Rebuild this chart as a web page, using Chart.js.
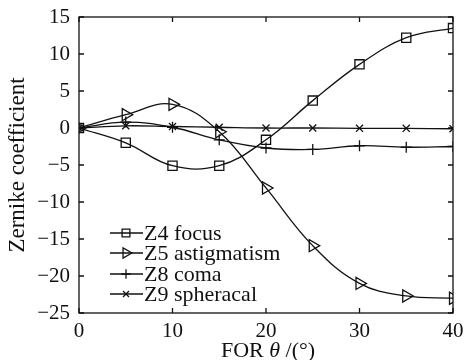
<!DOCTYPE html>
<html>
<head>
<meta charset="utf-8">
<script src="https://cdn.jsdelivr.net/npm/chart.js@4"></script>
<style>
html,body{margin:0;padding:0;background:#fff;}
#wrap{width:465px;height:360px;}
</style>
</head>
<body>
<div id="wrap"><canvas id="c" width="465" height="360"></canvas></div>
<script>
const fovAngles = [0, 5, 10, 15, 20, 25, 30, 35, 40];
const z4Focus = [0, -2.0, -5.1, -5.1, -1.6, 3.7, 8.6, 12.2, 13.5];
const z5Astig = [0, 1.8, 3.2, -0.5, -8.1, -15.9, -21.0, -22.7, -23.0];
const z8Coma = [0, 0.8, 0.1, -1.6, -2.7, -2.9, -2.4, -2.6, -2.5];
const z9Spher = [0, 0.3, 0.2, 0.1, 0.0, 0.0, -0.05, -0.05, -0.1];
const seriesNames = ['Z4 focus', 'Z5 astigmatism', 'Z8 coma', 'Z9 spheracal'];
const xTicks = [0, 10, 20, 30, 40];
const yTicks = [-25, -20, -15, -10, -5, 0, 5, 10, 15];

const FONT = '"Liberation Serif", "Times New Roman", serif';
const pts = arr => fovAngles.map((x, i) => ({x: x, y: arr[i]}));

const styles = [
  {pointStyle: 'rect', radius: 6.5, rotation: 0},
  {pointStyle: 'triangle', radius: 7, rotation: 90},
  {pointStyle: 'cross', radius: 5.5, rotation: 0},
  {pointStyle: 'crossRot', radius: 5, rotation: 0}
];
const datasets = [z4Focus, z5Astig, z8Coma, z9Spher].map((arr, i) => ({
  label: seriesNames[i],
  data: pts(arr),
  borderColor: '#111',
  borderWidth: 1.3,
  backgroundColor: 'rgba(0,0,0,0)',
  pointStyle: styles[i].pointStyle,
  pointRadius: styles[i].radius,
  pointRotation: styles[i].rotation,
  pointBorderColor: '#111',
  pointBackgroundColor: 'rgba(0,0,0,0)',
  pointBorderWidth: 1.3,
  tension: 0.4,
  fill: false
}));

const fmt = v => (v < 0 ? '\u2212' + Math.abs(v) : String(v));

const frameTicks = {
  id: 'frameTicks',
  afterDraw(chart) {
    const ctx = chart.ctx;
    const a = chart.chartArea;
    const xs = chart.scales.x, ys = chart.scales.y;
    ctx.save();
    ctx.strokeStyle = '#111';
    ctx.lineWidth = 1.3;
    ctx.strokeRect(a.left, a.top, a.right - a.left, a.bottom - a.top);
    const L = 5;
    ctx.beginPath();
    xTicks.forEach(v => {
      const px = xs.getPixelForValue(v);
      ctx.moveTo(px, a.bottom); ctx.lineTo(px, a.bottom - L);
      ctx.moveTo(px, a.top); ctx.lineTo(px, a.top + L);
    });
    yTicks.forEach(v => {
      const py = ys.getPixelForValue(v);
      ctx.moveTo(a.left, py); ctx.lineTo(a.left + L, py);
      ctx.moveTo(a.right, py); ctx.lineTo(a.right - L, py);
    });
    ctx.stroke();

    // legend
    const lx0 = a.left + 31, lx1 = a.left + 64, mx = a.left + 47;
    const rows = [233, 253, 274, 294];
    ctx.textBaseline = 'middle';
    ctx.textAlign = 'left';
    seriesNames.forEach((name, i) => {
      const y = rows[i];
      ctx.beginPath();
      ctx.lineWidth = 1.3;
      ctx.moveTo(lx0, y); ctx.lineTo(lx1, y);
      ctx.stroke();
      const st = styles[i];
      ctx.fillStyle = 'rgba(0,0,0,0)';
      Chart.helpers.drawPoint(ctx, {pointStyle: st.pointStyle, radius: st.radius * 0.85, rotation: st.rotation, borderWidth: 1.3}, mx, y);
      ctx.fillStyle = '#111';
      ctx.font = '22px ' + FONT;
      ctx.fillText(name, lx1 + 1, y + 1);
    });

    // x title with italic theta
    const parts = [['FOR ', 'normal'], ['\u03b8', 'italic'], [' /(\u00b0)', 'normal']];
    let total = 0;
    parts.forEach(p => { ctx.font = p[1] + ' 22px ' + FONT; total += ctx.measureText(p[0]).width; });
    let x = 268 - total / 2;
    ctx.fillStyle = '#111';
    ctx.textBaseline = 'middle';
    parts.forEach(p => {
      ctx.font = p[1] + ' 22px ' + FONT;
      ctx.fillText(p[0], x, 351);
      x += ctx.measureText(p[0]).width;
    });
    ctx.restore();
  }
};

new Chart(document.getElementById('c'), {
  type: 'line',
  data: {datasets: datasets},
  options: {
    responsive: false,
    animation: false,
    layout: {padding: {left: 4, top: 17, right: 12, bottom: 0}},
    plugins: {legend: {display: false}, tooltip: {enabled: false}},
    scales: {
      x: {
        type: 'linear', min: 0, max: 40,
        afterBuildTicks: s => { s.ticks = xTicks.map(v => ({value: v})); },
        afterFit: s => { s.height = 47; s.paddingLeft = 0; s.paddingRight = 0; },
        grid: {display: false, drawTicks: false},
        border: {display: false},
        ticks: {color: '#111', font: {family: FONT, size: 21}, padding: 6, maxRotation: 0, callback: v => fmt(v)}
      },
      y: {
        type: 'linear', min: -25, max: 15,
        afterBuildTicks: s => { s.ticks = yTicks.map(v => ({value: v})); },
        afterFit: s => { s.width = 75; s.paddingTop = 0; s.paddingBottom = 0; },
        grid: {display: false, drawTicks: false},
        border: {display: false},
        title: {display: true, text: 'Zernike coefficient', color: '#111', font: {family: FONT, size: 23}, padding: {top: 0, bottom: 0}},
        ticks: {color: '#111', font: {family: FONT, size: 21}, padding: 9, callback: v => fmt(v)}
      }
    }
  },
  plugins: [frameTicks]
});
</script>
</body>
</html>
